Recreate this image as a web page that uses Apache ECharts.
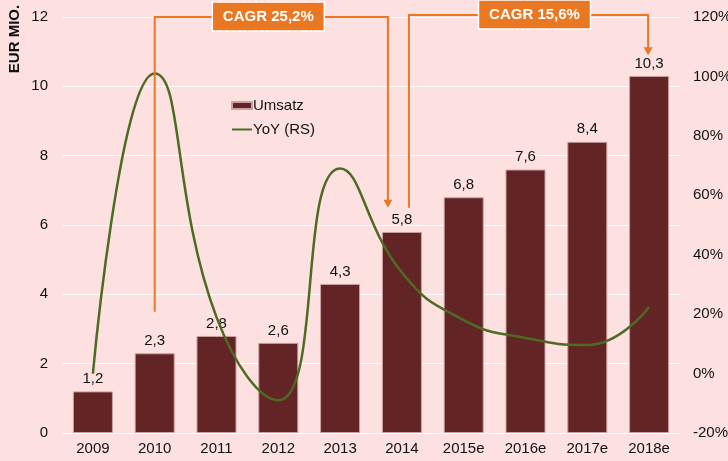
<!DOCTYPE html>
<html><head><meta charset="utf-8">
<script src="https://cdn.jsdelivr.net/npm/echarts@6/dist/echarts.min.js"></script>
<style>html,body{margin:0;padding:0;background:#fde1e1}#c{width:728px;height:461px}</style>
</head><body><div id="c"></div>
<script>
const categories = ['2009','2010','2011','2012','2013','2014','2015e','2016e','2017e','2018e'];
const umsatz = [1.2, 2.3, 2.8, 2.6, 4.3, 5.8, 6.8, 7.6, 8.4, 10.3];
const yoy = [0, 101, 19, -9, 69, 34, 18, 12, 9.6, 22.4];
const leftTicks = [0, 12, 2];      // min, max, interval
const rightTicks = [-20, 120, 20]; // min, max, interval (%)
const annotations = [
  {from: '2010', fromVal: 3.5, fromDx: 0, to: '2014', toVal: 6.5, toDx: -14, topVal: 12, boxDx: -3, text: 'CAGR 25,2%'},
  {from: '2014', fromVal: 6.5, fromDx: 7, to: '2018e', toVal: 10.9, toDx: -1, topVal: 12.06, boxDx: 6, text: 'CAGR 15,6%'}
];
const FONT = '"Liberation Sans", Arial, sans-serif';
const ORANGE = '#ea7722';
const chart = echarts.init(document.getElementById('c'));
chart.setOption({
  backgroundColor: '#fde1e1',
  animation: false,
  textStyle: {fontFamily: FONT},
  grid: {left: 62, right: 48, top: 17, bottom: 28, containLabel: false, outerBoundsMode: 'none'},
  legend: {
    orient: 'vertical', left: 226, top: 93, itemWidth: 20, itemHeight: 7, itemGap: 9,
    textStyle: {fontSize: 15, color: '#111', fontFamily: FONT, padding: [0,0,0,-4]},
    data: [{name: 'Umsatz', icon: 'rect'}, {name: 'YoY (RS)', icon: 'path://M0,0L20,0L20,2L0,2Z'}]
  },
  xAxis: {
    type: 'category', data: categories,
    axisLine: {show: false}, axisTick: {show: false},
    axisLabel: {fontSize: 15, color: '#111', margin: 8, fontFamily: FONT}
  },
  yAxis: [
    {type: 'value', min: leftTicks[0], max: leftTicks[1], interval: leftTicks[2],
     axisLine: {show: false}, axisTick: {show: false},
     axisLabel: {fontSize: 15, color: '#111', margin: 14, fontFamily: FONT},
     splitLine: {lineStyle: {color: '#ffffff', width: 1}}},
    {type: 'value', min: rightTicks[0], max: rightTicks[1], interval: rightTicks[2],
     axisLine: {show: false}, axisTick: {show: false},
     axisLabel: {fontSize: 15, color: '#111', margin: 13, formatter: '{value}%', fontFamily: FONT},
     splitLine: {show: false}}
  ],
  series: [
    {name: 'Umsatz', type: 'bar', data: umsatz, barWidth: 40, z: 2,
     itemStyle: {color: '#622424', borderColor: '#caa0a0', borderWidth: 1},
     label: {show: true, position: 'top', distance: 5, fontSize: 15, color: '#111', fontFamily: FONT,
       formatter: p => String(p.value).replace('.', ',')}},
    {name: 'YoY (RS)', type: 'line', yAxisIndex: 1, data: yoy, smooth: 0.5, symbol: 'none', z: 3,
     lineStyle: {color: '#4f6a22', width: 2.5}, itemStyle: {color: '#4f6a22'}}
  ]
});
function px(cat, val){ return chart.convertToPixel({xAxisIndex: 0, yAxisIndex: 0}, [cat, val]); }
const g = [];
annotations.forEach(a => {
  const s = px(a.from, a.fromVal), t = px(a.to, a.toVal), top = px(a.from, a.topVal)[1];
  const x1 = s[0] + a.fromDx, x2 = t[0] + a.toDx;
  g.push({type: 'polyline', z: 10, shape: {points: [[x1, s[1]], [x1, top], [x2, top], [x2, t[1] - 7]]},
    style: {stroke: ORANGE, lineWidth: 2, fill: null}});
  g.push({type: 'polygon', z: 10, shape: {points: [[x2 - 4.5, t[1] - 8], [x2 + 4.5, t[1] - 8], [x2, t[1]]]},
    style: {fill: ORANGE}});
  const cx = (x1 + x2) / 2 + a.boxDx;
  g.push({type: 'rect', z: 11, shape: {x: cx - 56, y: top - 15, width: 112, height: 29},
    style: {fill: ORANGE, stroke: '#ffffff', lineWidth: 1.5}});
  g.push({type: 'text', z: 12, x: cx, y: top, style: {text: a.text, fill: '#fff', font: 'bold 15px ' + FONT,
    align: 'center', verticalAlign: 'middle'}});
});
g.push({type: 'text', x: 15, y: 39, rotation: Math.PI / 2,
  style: {text: 'EUR MIO.', fill: '#111', font: 'bold 15px ' + FONT, align: 'center', verticalAlign: 'middle'}});
chart.setOption({graphic: g});
</script></body></html>
